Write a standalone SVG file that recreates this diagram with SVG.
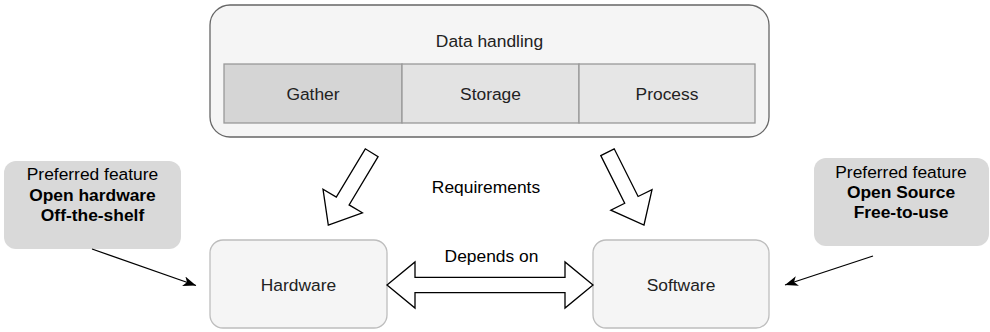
<svg xmlns="http://www.w3.org/2000/svg" width="990" height="332" viewBox="0 0 990 332">
  <style>
    text { font-family: "Liberation Sans", Arial, Helvetica, sans-serif; font-size: 17.4px; text-anchor: middle; }
    .dark { fill: #222222; }
    .plain { fill: #000000; }
    .bold { font-weight: bold; }
    .container { fill: #f5f5f5; stroke: #666666; stroke-width: 1.3; }
    .cell { stroke: #999999; stroke-width: 1.3; }
    .comp { fill: #f5f5f5; stroke: #bdbdbd; stroke-width: 1.3; }
    .pref { fill: #d9d9d9; stroke: none; }
    .fat { fill: #ffffff; stroke: #000000; stroke-width: 1.3; stroke-linejoin: miter; }
    .thin { fill: none; stroke: #000000; stroke-width: 1.3; }
  </style>
  <defs>
    <marker id="arrowhead" markerUnits="userSpaceOnUse" markerWidth="14" markerHeight="12" refX="13" refY="5" orient="auto">
      <path d="M0,0 L13,5 L0,10 L3.5,5 Z" fill="#000000"/>
    </marker>
  </defs>

  <!-- Data handling container with its three stages -->
  <g id="data-handling">
    <rect class="container" x="210" y="5" width="559" height="132" rx="20" ry="20"/>
    <text class="dark" x="489.5" y="47">Data handling</text>
  </g>
  <g id="gather">
    <rect class="cell" x="224" y="64" width="178" height="59" fill="#d5d5d5"/>
    <text class="dark" x="313" y="99.5">Gather</text>
  </g>
  <g id="storage">
    <rect class="cell" x="402" y="64" width="177" height="59" fill="#e3e3e3"/>
    <text class="dark" x="490.5" y="99.5">Storage</text>
  </g>
  <g id="process">
    <rect class="cell" x="579" y="64" width="176" height="59" fill="#e6e6e6"/>
    <text class="dark" x="667" y="99.5">Process</text>
  </g>

  <!-- Preferred feature notes -->
  <g id="pref-hardware">
    <rect class="pref" x="4" y="161" width="177" height="88" rx="12" ry="12"/>
    <text class="plain" x="92.5" y="180">Preferred feature</text>
    <text class="plain bold" x="92.5" y="200.5">Open hardware</text>
    <text class="plain bold" x="92.5" y="221">Off-the-shelf</text>
  </g>
  <g id="pref-software">
    <rect class="pref" x="814" y="158" width="175" height="88" rx="12" ry="12"/>
    <text class="plain" x="901" y="178">Preferred feature</text>
    <text class="plain bold" x="901" y="197.5">Open Source</text>
    <text class="plain bold" x="901" y="218">Free-to-use</text>
  </g>

  <!-- Components -->
  <g id="hardware">
    <rect class="comp" x="210" y="240" width="177" height="88" rx="13" ry="13"/>
    <text class="dark" x="298.5" y="291">Hardware</text>
  </g>
  <g id="software">
    <rect class="comp" x="593" y="240" width="176" height="88" rx="13" ry="13"/>
    <text class="dark" x="681" y="291">Software</text>
  </g>

  <!-- Connectors -->
  <g id="connectors">
    <polygon class="fat" points="378.1,156.6 349.1,204.9 362.4,212.8 328.3,225 323.0,189.2 336.3,197.1 365.3,148.8"/>
    <polygon class="fat" points="600.8,155.6 624.7,203.3 610.8,210.2 644,225 652.0,189.6 638.1,196.5 614.2,148.8"/>
    <text class="plain" x="486" y="193">Requirements</text>

    <polygon class="fat" points="387,285 415,262 415,277.3 565,277.3 565,262 593,285 565,308 565,292.7 415,292.7 415,308"/>
    <text class="plain" x="491.5" y="261.5">Depends on</text>

    <line class="thin" x1="92" y1="249" x2="196" y2="285.5" marker-end="url(#arrowhead)"/>
    <line class="thin" x1="873" y1="256" x2="785" y2="285" marker-end="url(#arrowhead)"/>
  </g>
</svg>
